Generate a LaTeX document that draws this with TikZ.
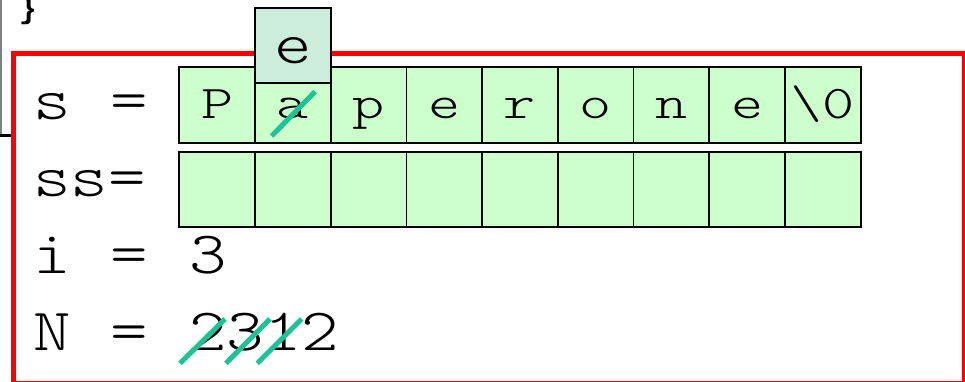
\documentclass[tikz,border=0pt]{standalone}
\usepackage{fontspec}
\newfontfamily\courmain{lmmonolt10-regular.otf}[FakeStretch=1.19]
\newfontfamily\courcell{lmmonolt10-regular.otf}[FakeStretch=1.3]
\newfontfamily\codefont{Liberation Mono}
\definecolor{cellgreen}{RGB}{204,255,204}
\definecolor{boxteal}{RGB}{204,236,220}
\definecolor{slashgreen}{RGB}{26,196,148}
\definecolor{framered}{RGB}{255,0,0}
\tikzset{
  cellbox/.style={draw=black, line width=1.8pt, fill=cellgreen, minimum width=75.7pt, minimum height=76pt, inner sep=0pt, outer sep=0pt},
  celltext/.style={inner sep=0pt, anchor=base, font=\courcell\fontsize{47}{47}\selectfont},
  bigtext/.style={inner sep=0pt, anchor=base west, font=\courmain\fontsize{60}{60}\selectfont},
  slashline/.style={draw=slashgreen, line width=5pt},
}
\begin{document}
\begin{tikzpicture}[x=1pt,y=-1pt]
\useasboundingbox (0,0) rectangle (965,382);
\clip (0,0) rectangle (965,382);
% left-over code frame
\draw[gray, line width=1.5pt] (0.75,0) -- (0.75,137);
\draw[black, line width=3pt] (0,136) -- (13,136);
\node[font=\codefont\bfseries\fontsize{30}{30}\selectfont, inner sep=0pt] (brace) at (28,11) {\}};
% red frame
\draw[framered, line width=5pt] (13.5,54) rectangle (964.5,383.5);
% s array
\foreach \i in {0,...,8}
  \node[cellbox] (s\i) at ({179.3+75.7*(\i+0.5)},104.7) {};
% ss array
\foreach \i in {0,...,8}
  \node[cellbox, minimum height=75pt] (ss\i) at ({179.3+75.7*(\i+0.5)},189.2) {};
% replacement box
\node[cellbox, fill=boxteal, minimum height=75pt] (ebox) at (293.15,45.8) {};
% cell characters
\foreach \i/\c in {0/P,1/a,2/p,3/e,4/r,5/o,6/n,7/e,8/{\textbackslash 0}}
  \node[celltext] (c\i) at ({179.3+75.7*(\i+0.5)},118.3) {\c};
\node[bigtext, anchor=base] (etext) at (293.2,63.3) {e};
% variable names
\node[bigtext] (sname) at (33,120) {s};
\node[bigtext] (seq) at (110,120) {=};
\node[bigtext] (ssname) at (33,196) {ss=};
\node[bigtext] (iname) at (33,273) {i};
\node[bigtext] (ieq) at (110,273) {=};
\node[bigtext] (ival) at (189,273) {3};
\node[bigtext] (nname) at (33,350) {N};
\node[bigtext] (neq) at (110,350) {=};
\node[bigtext] (nval) at (189,350) {2312};
% strike-outs
\draw[slashline] (271.7,136) -- (315,91.7);
\draw[slashline] (180,363.3) -- (225,319);
\draw[slashline] (226,363.3) -- (270,319);
\draw[slashline] (257.3,363.3) -- (301.7,319);
\end{tikzpicture}
\end{document}
